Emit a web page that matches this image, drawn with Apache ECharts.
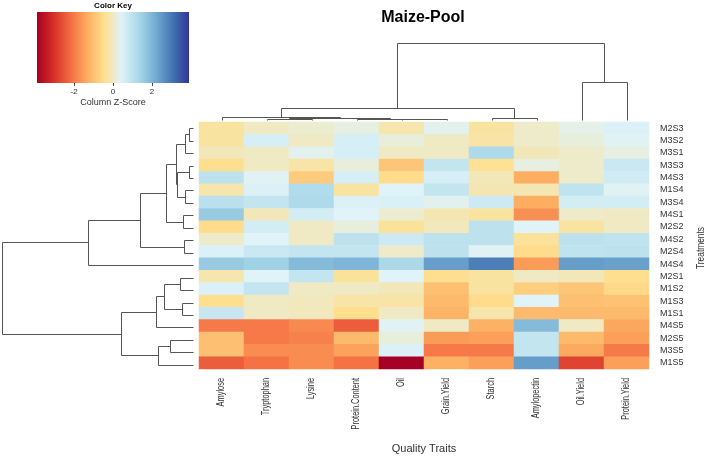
<!DOCTYPE html>
<html><head><meta charset="utf-8">
<script src="https://cdn.jsdelivr.net/npm/echarts@6/dist/echarts.min.js"></script>
<style>html,body{margin:0;padding:0;background:#fff}#c{width:708px;height:459px}</style>
</head><body><div id="c"></div>
<script>
const traits = ['Amylose','Tryptophan','Lysine','Protein.Content','Oil','Grain.Yield','Starch','Amylopectin','Oil.Yield','Protein.Yield'];
const treatments = ['M2S3','M3S2','M3S1','M3S3','M4S3','M1S4','M3S4','M4S1','M2S2','M4S2','M2S4','M4S4','M2S1','M1S2','M1S3','M1S1','M4S5','M2S5','M3S5','M1S5'];
// column z-scores, one row per treatment (trait order as above)
const zScores = [
  [-0.3, 0, 0.1, 0.25, -0.2, 0.35, -0.3, 0.05, 0.3, 0.5],
  [-0.3, 0.6, 0, 0.6, 0.2, 0, -0.25, 0.05, 0.2, 0.4],
  [-0.1, 0, 0.35, 0.6, 0, 0, 1.25, -0.1, 0.05, 0.25],
  [-0.45, 0, -0.25, 0.2, -0.9, 0.9, -0.4, 0.25, 0.05, 0.8],
  [1.0, 0.4, -0.8, 0.6, -0.5, 0.6, -0.1, -1.3, 0.05, 0.7],
  [-0.2, 0.5, 1.2, -0.3, 0.45, 0.9, -0.15, -0.15, 0.95, 0.4],
  [1.05, 0.9, 1.25, 0.5, 0.55, 0.35, 0.75, -1.3, 0.65, 0.65],
  [1.6, -0.1, 0.65, 0.45, 0.1, -0.15, -0.3, -1.7, 0.05, 0],
  [-0.5, 0.65, 0, 0.2, -0.35, -0.05, 1.0, 0.45, -0.3, 0],
  [0.05, 0.45, 0, 1.0, 0.75, 1.0, 1.0, -0.35, 1.0, 0.95],
  [0.5, 0.8, 0.9, 0.9, 0.05, 1.0, 0.4, -0.5, 0.95, 1.0],
  [1.6, 1.45, 1.9, 2.0, 1.3, 2.4, 2.9, -1.55, 2.4, 2.35],
  [-0.2, 0.45, 0.9, -0.35, 0.45, -0.45, -0.3, 0, -0.1, -0.45],
  [0.5, 0.9, 0, 0, -0.1, -1.0, -0.3, -0.75, -0.9, -0.55],
  [-0.45, 0, -0.05, -0.25, -0.25, -1.1, -0.5, 0.45, -1.0, -0.95],
  [0.85, 0, -0.05, -0.45, 0, -1.2, -0.2, -1.1, -1.1, -1.1],
  [-2.0, -2.0, -1.8, -2.4, 0.4, 0, -1.25, 1.9, 0, -1.4],
  [-1.0, -2.0, -1.9, -1.1, 0.2, -1.55, -1.5, 0.9, -1.1, -1.5],
  [-1.0, -1.75, -1.75, -1.45, 0.5, -2.0, -2.0, 0.9, -1.35, -2.0],
  [-2.4, -2.1, -1.75, -2.1, -3.9, -1.25, -1.5, 2.4, -2.75, -1.5]
];
// hclust-style merges: negative = leaf (1-based), positive = earlier merge; third = height
const rowMerges = [
  [-1,-2,4],[1,-3,8.3],[-4,-5,4],[-6,-7,8.3],[3,4,16.2],[2,5,17],[-8,-9,10],[6,7,27.3],
  [-10,-11,9],[8,9,53.3],[10,-12,104.6],[-13,-14,13.3],[-15,-16,10.6],[12,13,29.3],
  [14,-17,36.6],[-18,-19,23.3],[16,-20,35.3],[15,17,72.3],[11,18,190.6]
];
const colMerges = [
  [-5,-6,1.0],[-4,1,1.4],[-2,-3,0.7],[3,2,2.0],[-1,4,3.3],[-7,-8,2.3],[5,6,11.7],[-9,-10,38.3],[7,8,77.3]
];
const keyRange = [-3.9, 3.9];
const keyTicks = [-2, 0, 2];
const palette = ['#a50026','#d73027','#f46d43','#fdae61','#fee090','#e0f3f8','#abd9e9','#74add1','#4575b4','#313695'];

const FONT = '"Liberation Sans", Arial, sans-serif';
const heatData = [];
zScores.forEach((row, r) => row.forEach((v, c) => heatData.push([c, r, v])));

function dendroSegments(merges) {
  const pos = [], hgt = [], segs = [];
  const get = id => id < 0 ? [(-id - 1) + 0.5, 0] : [pos[id - 1], hgt[id - 1]];
  merges.forEach((m, i) => {
    const a = get(m[0]), b = get(m[1]);
    pos[i] = (a[0] + b[0]) / 2; hgt[i] = m[2];
    segs.push([a[0], a[1], b[0], b[1], m[2]]);
  });
  return segs;
}
function dendroRender(horizontal) {
  return function (params, api) {
    const pA = api.value(0), hA = api.value(1), pB = api.value(2), hB = api.value(3), h = api.value(4);
    const c = horizontal ? (p, v) => api.coord([v, p]) : (p, v) => api.coord([p, v]);
    const pts = [c(pA, hA), c(pA, h), c(pB, h), c(pB, hB)].map(p => [Math.round(p[0]) + 0.5, Math.round(p[1]) + 0.5]);
    return { type: 'polyline', shape: { points: pts }, style: { stroke: '#555', lineWidth: 1, fill: null } };
  };
}

const chart = echarts.init(document.getElementById('c'));
const stops = palette.map((col, i) => ({ offset: i / (palette.length - 1), color: col }));

chart.setOption({
  animation: false,
  backgroundColor: '#fff',
  grid: [
    { left: 199, top: 122, width: 450, height: 249 },
    { left: 199, top: 40, width: 450, height: 80 },
    { left: 0, top: 122, width: 193, height: 249 },
    { left: 37, top: 12, width: 152, height: 71 }
  ],
  xAxis: [
    { gridIndex: 0, type: 'category', data: traits, axisLine: { show: false }, axisTick: { show: false },
      axisLabel: { show: false }, name: 'Quality Traits', nameLocation: 'middle', nameGap: 74,
      nameTextStyle: { fontFamily: FONT, fontSize: 11, color: '#333' } },
    { gridIndex: 1, type: 'value', min: 0, max: 10, show: false },
    { gridIndex: 2, type: 'value', min: 0, max: 193, inverse: true, show: false },
    { gridIndex: 3, type: 'value', min: keyRange[0], max: keyRange[1], position: 'bottom',
      splitLine: { show: false }, axisLine: { show: false },
      axisTick: { show: true, length: 3, customValues: keyTicks, lineStyle: { color: '#444' } },
      axisLabel: { customValues: keyTicks, margin: 5, fontFamily: FONT, fontSize: 8, color: '#333' },
      name: 'Column Z-Score', nameLocation: 'middle', nameGap: 15,
      nameTextStyle: { fontFamily: FONT, fontSize: 9, color: '#333' } }
  ],
  yAxis: [
    { gridIndex: 0, type: 'category', data: treatments, inverse: true, position: 'right',
      axisLine: { show: false }, axisTick: { show: false },
      axisLabel: { margin: 11, fontFamily: FONT, fontSize: 9, color: '#333' } },
    { gridIndex: 1, type: 'value', min: 0, max: 80, show: false },
    { gridIndex: 2, type: 'value', min: 0, max: 20, inverse: true, show: false },
    { gridIndex: 3, type: 'value', min: 0, max: 1, show: false }
  ],
  visualMap: {
    type: 'continuous', show: false, min: keyRange[0], max: keyRange[1], seriesIndex: 0,
    inRange: { color: palette }
  },
  series: [
    { type: 'heatmap', xAxisIndex: 0, yAxisIndex: 0, data: heatData, emphasis: { disabled: true }, silent: true },
    { type: 'custom', xAxisIndex: 1, yAxisIndex: 1, data: dendroSegments(colMerges), renderItem: dendroRender(false), silent: true, clip: false },
    { type: 'custom', xAxisIndex: 2, yAxisIndex: 2, data: dendroSegments(rowMerges), renderItem: dendroRender(true), silent: true, clip: false },
    { type: 'custom', xAxisIndex: 3, yAxisIndex: 3, data: [[keyRange[0], 0, keyRange[1], 1]], silent: true, clip: false,
      renderItem: function (params, api) {
        const a = api.coord([api.value(0), api.value(3)]);
        const b = api.coord([api.value(2), api.value(1)]);
        return { type: 'rect', shape: { x: a[0], y: a[1], width: b[0] - a[0], height: b[1] - a[1] },
          style: { fill: new echarts.graphic.LinearGradient(0, 0, 1, 0, stops) } };
      } },
    { type: 'custom', xAxisIndex: 0, yAxisIndex: 0, data: traits.map((t, i) => [i, 0]), silent: true, clip: false,
      renderItem: function (params, api) {
        const i = api.value(0);
        const x = api.coord([i, 0])[0];
        const cs = params.coordSys;
        return { type: 'text', x: x, y: cs.y + cs.height + 9, rotation: Math.PI / 2, scaleX: 0.74,
          style: { text: traits[i], align: 'right', verticalAlign: 'middle', fontFamily: FONT, fontSize: 10, fill: '#333' } };
      } }
  ],
  graphic: [
    { type: 'text', x: 423, y: 18, style: { text: 'Maize-Pool', align: 'center', verticalAlign: 'middle',
      fontFamily: FONT, fontWeight: 'bold', fontSize: 16, fill: '#000' } },
    { type: 'text', x: 113, y: 6, style: { text: 'Color Key', align: 'center', verticalAlign: 'middle',
      fontFamily: FONT, fontWeight: 'bold', fontSize: 8, fill: '#000' } },
    { type: 'text', x: 701, y: 248, rotation: Math.PI / 2, scaleX: 0.76, style: { text: 'Treatments', align: 'center',
      verticalAlign: 'middle', fontFamily: FONT, fontSize: 11, fill: '#333' } }
  ]
});
</script>
</body></html>
